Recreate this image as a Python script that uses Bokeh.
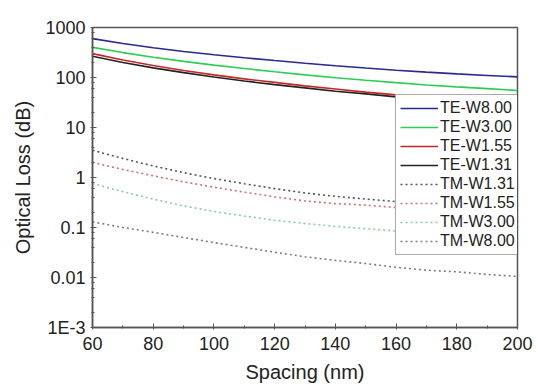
from bokeh.plotting import figure
from bokeh.models import FixedTicker, CustomJSTickFormatter, Legend, LegendItem
from bokeh.embed import file_html
from bokeh.resources import INLINE

spacing = [60, 70, 80, 90, 100, 110, 120, 130, 140, 150, 160, 170, 180, 190, 200]

te_w800 = [600, 480, 395, 330, 285, 248, 218, 193, 172, 155, 140, 128, 118, 110, 103]
te_w300 = [400, 315, 255, 210, 177, 151, 130, 113, 99, 88, 79, 71, 65, 60, 55]
te_w155 = [300, 224, 174, 138, 113, 94, 80, 68, 59, 51, 45, 40, 36, 32, 29]
te_w131 = [265, 200, 156, 125, 102, 85, 72, 62, 53, 47, 41, 36, 32, 29, 26]
tm_w131 = [3.5, 2.4, 1.7, 1.25, 0.95, 0.75, 0.6, 0.49, 0.42, 0.37, 0.33, 0.29, 0.26, 0.24, 0.22]
tm_w155 = [2.0, 1.45, 1.08, 0.82, 0.64, 0.51, 0.41, 0.34, 0.30, 0.28, 0.25, 0.22, 0.20, 0.18, 0.16]
tm_w300 = [0.76, 0.52, 0.37, 0.27, 0.21, 0.17, 0.14, 0.12, 0.105, 0.095, 0.085, 0.078, 0.072, 0.066, 0.06]
tm_w800 = [0.13, 0.10, 0.08, 0.063, 0.05, 0.04, 0.032, 0.026, 0.022, 0.019, 0.016, 0.014, 0.013, 0.0115, 0.0105]

series = [
    ("TE-W8.00", te_w800, "#2a2a8c", "solid"),
    ("TE-W3.00", te_w300, "#2ecc55", "solid"),
    ("TE-W1.55", te_w155, "#c42828", "solid"),
    ("TE-W1.31", te_w131, "#222222", "solid"),
    ("TM-W1.31", tm_w131, "#555555", "dotted"),
    ("TM-W1.55", tm_w155, "#d07070", "dotted"),
    ("TM-W3.00", tm_w300, "#8ccc9a", "dotted"),
    ("TM-W8.00", tm_w800, "#7a7a9a", "dotted"),
]

x_ticks = [60, 80, 100, 120, 140, 160, 180, 200]
x_minor = [70, 90, 110, 130, 150, 170, 190]
y_ticks = [0.001, 0.01, 0.1, 1, 10, 100, 1000]

p = figure(width=536, height=388, y_axis_type="log", x_range=(60, 200), y_range=(0.001, 1000),
           output_backend="svg", toolbar_location=None,
           min_border_left=92, min_border_right=19, min_border_top=27, min_border_bottom=61)
p.background_fill_color = "white"
p.border_fill_color = "white"
p.outline_line_color = "#555555"
p.outline_line_width = 1.5
p.xgrid.visible = False
p.ygrid.visible = False

minor_y = []
for d in [0.001, 0.01, 0.1, 1, 10, 100]:
    for k in [2, 4, 6, 8]:
        minor_y.append(d * k)

p.xaxis.ticker = FixedTicker(ticks=x_ticks, minor_ticks=x_minor)
p.yaxis.ticker = FixedTicker(ticks=y_ticks, minor_ticks=minor_y)
p.yaxis.formatter = CustomJSTickFormatter(code="""
if (tick >= 1) return tick.toFixed(0);
if (tick > 0.0015) return String(parseFloat(tick.toPrecision(1)));
return "1E-3";
""")

for ax in [p.xaxis[0], p.yaxis[0]]:
    ax.axis_line_color = "#555555"
    ax.axis_line_width = 1.5
    ax.major_tick_line_color = "#555555"
    ax.minor_tick_line_color = "#555555"
    ax.major_tick_in = 4
    ax.major_tick_out = 2
    ax.minor_tick_in = 2
    ax.minor_tick_out = 1
    ax.major_label_text_font = "Liberation Sans"
    ax.major_label_text_font_size = "18px"
    ax.major_label_text_color = "#222222"
    ax.axis_label_text_font = "Liberation Sans"
    ax.axis_label_text_font_size = "20px"
    ax.axis_label_text_font_style = "normal"
    ax.axis_label_text_color = "#222222"

p.xaxis.axis_label = "Spacing (nm)"
p.yaxis.axis_label = "Optical Loss (dB)"
p.xaxis.major_label_standoff = 7
p.yaxis.major_label_standoff = 5
p.xaxis.axis_label_standoff = 8
p.yaxis.axis_label_standoff = 8

items = []
for name, vals, color, dash in series:
    if dash == "solid":
        r = p.line(spacing, vals, line_color=color, line_width=1.6)
    else:
        r = p.line(spacing, vals, line_color=color, line_width=1.6, line_dash="2 3")
    items.append(LegendItem(label=name, renderers=[r]))

legend = Legend(items=items, location=(303, 72))
legend.glyph_width = 38
legend.glyph_height = 18
legend.label_height = 18
legend.spacing = 1
legend.padding = 4
legend.margin = 0
legend.label_standoff = 2
legend.label_text_font = "Liberation Sans"
legend.label_text_font_size = "16px"
legend.label_text_color = "#222222"
legend.border_line_color = "#555555"
legend.border_line_width = 1.2
legend.background_fill_color = "white"
legend.background_fill_alpha = 1.0
p.add_layout(legend, "center")

open("out.html", "w").write(file_html(p, INLINE))
